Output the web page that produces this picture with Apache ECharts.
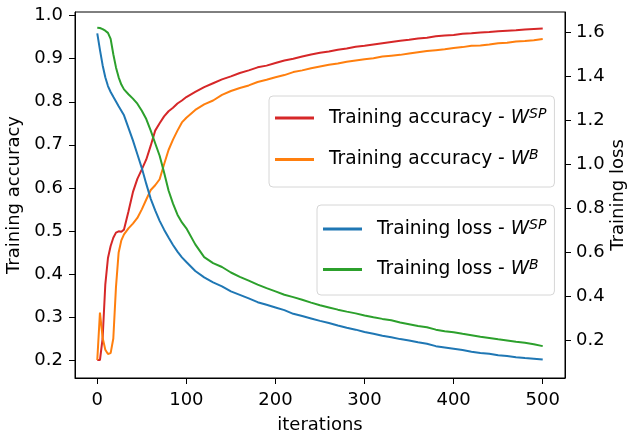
<!DOCTYPE html>
<html>
<head>
<meta charset="utf-8">
<script src="https://cdn.jsdelivr.net/npm/echarts@6/dist/echarts.min.js"></script>
<style>html,body{margin:0;padding:0;background:#fff;}#c{width:627px;height:439px;}</style>
</head>
<body>
<div id="c"></div>
<script>
const iters = [0,3,6,9,12,15,18,21,24,27,30,
  35,40,45,50,55,60,65,70,75,80,85,90,95,100,
  110,120,130,140,150,160,170,180,190,200,210,220,230,240,250,260,270,280,290,300,
  310,320,330,340,350,360,370,380,390,400,410,420,430,440,450,460,470,480,490,500];
const accSP = [0.200,0.200,0.250,0.375,0.437,0.465,0.484,0.496,0.499,0.498,0.503,
  0.545,0.590,0.621,0.643,0.666,0.698,0.733,0.750,0.766,0.778,0.786,0.796,0.803,0.811,
  0.823,0.834,0.843,0.852,0.859,0.867,0.873,0.880,0.884,0.890,0.896,0.900,0.905,0.910,0.914,0.917,0.921,0.924,0.928,0.930,
  0.933,0.936,0.939,0.942,0.944,0.947,0.949,0.952,0.954,0.955,0.958,0.959,0.961,0.962,0.964,0.965,0.966,0.968,0.969,0.970];
const accB = [0.200,0.310,0.252,0.224,0.214,0.216,0.250,0.370,0.450,0.478,0.492,
  0.506,0.517,0.530,0.550,0.573,0.595,0.606,0.620,0.655,0.688,0.712,0.733,0.752,0.763,
  0.781,0.794,0.803,0.816,0.825,0.832,0.838,0.846,0.851,0.857,0.862,0.869,0.873,0.878,0.882,0.886,0.889,0.893,0.896,0.899,
  0.901,0.905,0.907,0.909,0.912,0.915,0.918,0.920,0.922,0.925,0.927,0.930,0.931,0.933,0.936,0.937,0.940,0.941,0.943,0.946];
const lossSP = [1.595,1.520,1.450,1.395,1.355,1.328,1.306,1.285,1.263,1.243,1.222,
  1.165,1.108,1.045,0.982,0.910,0.842,0.790,0.742,0.702,0.666,0.632,0.602,0.576,0.555,
  0.514,0.485,0.462,0.444,0.421,0.405,0.389,0.372,0.360,0.348,0.336,0.319,0.309,0.298,0.287,0.277,0.266,0.256,0.247,0.236,
  0.228,0.219,0.212,0.204,0.198,0.190,0.183,0.172,0.166,0.160,0.154,0.147,0.141,0.137,0.131,0.127,0.122,0.118,0.115,0.111];
const lossB = [1.620,1.619,1.614,1.607,1.597,1.570,1.500,1.440,1.395,1.362,1.340,
  1.318,1.298,1.275,1.243,1.205,1.152,1.095,1.038,0.962,0.880,0.820,0.770,0.735,0.708,
  0.635,0.577,0.550,0.532,0.507,0.487,0.470,0.452,0.436,0.421,0.406,0.395,0.383,0.370,0.358,0.348,0.338,0.329,0.321,0.311,
  0.303,0.296,0.290,0.280,0.272,0.264,0.258,0.247,0.240,0.235,0.228,0.222,0.215,0.209,0.203,0.198,0.192,0.187,0.181,0.172];
const xTicks = [0,100,200,300,400,500];
const accTicks = [0.2,0.3,0.4,0.5,0.6,0.7,0.8,0.9,1.0];
const lossTicks = [0.2,0.4,0.6,0.8,1.0,1.2,1.4,1.6];

const FONT = 'DejaVu Sans';
const FS = 18;
const LFS = 18.6;
const names = {
  accSP: 'Training accuracy - W^SP', accB: 'Training accuracy - W^B',
  lossSP: 'Training loss - W^SP', lossB: 'Training loss - W^B'
};
function legendFmt(name) {
  const parts = name.split(' - W^');
  return '{n|' + parts[0] + ' - }{w|W}{s|' + parts[1] + '}';
}
const rich = {
  n: {fontFamily: FONT, fontSize: LFS, color: '#000', lineHeight: 22},
  w: {fontFamily: FONT, fontSize: LFS, color: '#000', fontStyle: 'italic', lineHeight: 22},
  s: {fontFamily: FONT, fontSize: 14, color: '#000', fontStyle: 'italic', lineHeight: 14, verticalAlign: 'top'}
};
const pairs = a => iters.map((x, i) => [x, a[i]]);
const axisCommon = {
  axisLine: {show: true, onZero: false, lineStyle: {color: '#000', width: 1}},
  splitLine: {show: false},
  nameTextStyle: {fontFamily: FONT, fontSize: FS, color: '#000'}
};
const legendCommon = {
  orient: 'vertical', icon: 'rect', itemWidth: 39, itemHeight: 3,
  backgroundColor: 'rgba(255,255,255,0.8)', borderColor: '#d6d6d6', borderWidth: 1, borderRadius: 4,
  formatter: legendFmt,
  textStyle: {fontFamily: FONT, fontSize: LFS, color: '#000', padding: [0,0,0,10], rich: rich}
};
const chart = echarts.init(document.getElementById('c'), null, {renderer: 'canvas'});
chart.setOption({
  animation: false,
  backgroundColor: '#fff',
  grid: {left: 75, right: 62, top: 12, bottom: 61, containLabel: false, outerBoundsMode: 'none',
    show: true, borderColor: '#000', borderWidth: 1, backgroundColor: 'transparent'},
  xAxis: Object.assign({}, axisCommon, {
    type: 'value', min: -25, max: 525,
    name: 'iterations', nameLocation: 'middle', nameGap: 38,
    axisLabel: {customValues: xTicks, margin: 13, fontFamily: FONT, fontSize: FS, color: '#000'},
    axisTick: {show: true, length: 6, customValues: xTicks, lineStyle: {color: '#000', width: 1}}
  }),
  yAxis: [
    Object.assign({}, axisCommon, {
      type: 'value', position: 'left', min: 0.1582, max: 1.0086,
      name: 'Training accuracy', nameLocation: 'middle', nameGap: 51, nameRotate: 90,
      axisLabel: {customValues: accTicks, margin: 12, fontFamily: FONT, fontSize: FS, color: '#000', formatter: v => v.toFixed(1)},
      axisTick: {show: true, length: 6, customValues: accTicks, lineStyle: {color: '#000', width: 1}}
    }),
    Object.assign({}, axisCommon, {
      type: 'value', position: 'right', min: 0.0271, max: 1.692,
      name: 'Training loss', nameLocation: 'middle', nameGap: 44, nameRotate: 90, nameMoveOverlap: false,
      axisLabel: {customValues: lossTicks, margin: 11, fontFamily: FONT, fontSize: FS, color: '#000', formatter: v => v.toFixed(1)},
      axisTick: {show: true, length: 6, customValues: lossTicks, lineStyle: {color: '#000', width: 1}}
    })
  ],
  legend: [
    Object.assign({}, legendCommon, {left: 269, top: 96, padding: [11, 8, 18, 6], itemGap: 21,
      data: [{name: names.accSP}, {name: names.accB}]}),
    Object.assign({}, legendCommon, {left: 317, top: 205, padding: [13, 8, 16, 6], itemGap: 20,
      data: [{name: names.lossSP}, {name: names.lossB}]})
  ],
  series: [
    {name: names.accSP, type: 'line', yAxisIndex: 0, data: pairs(accSP), showSymbol: false, symbol: 'none', color: '#d62728', lineStyle: {width: 2}},
    {name: names.accB, type: 'line', yAxisIndex: 0, data: pairs(accB), showSymbol: false, symbol: 'none', color: '#ff7f0e', lineStyle: {width: 2}},
    {name: names.lossSP, type: 'line', yAxisIndex: 1, data: pairs(lossSP), showSymbol: false, symbol: 'none', color: '#1f77b4', lineStyle: {width: 2}},
    {name: names.lossB, type: 'line', yAxisIndex: 1, data: pairs(lossB), showSymbol: false, symbol: 'none', color: '#2ca02c', lineStyle: {width: 2}}
  ]
});
</script>
</body>
</html>
